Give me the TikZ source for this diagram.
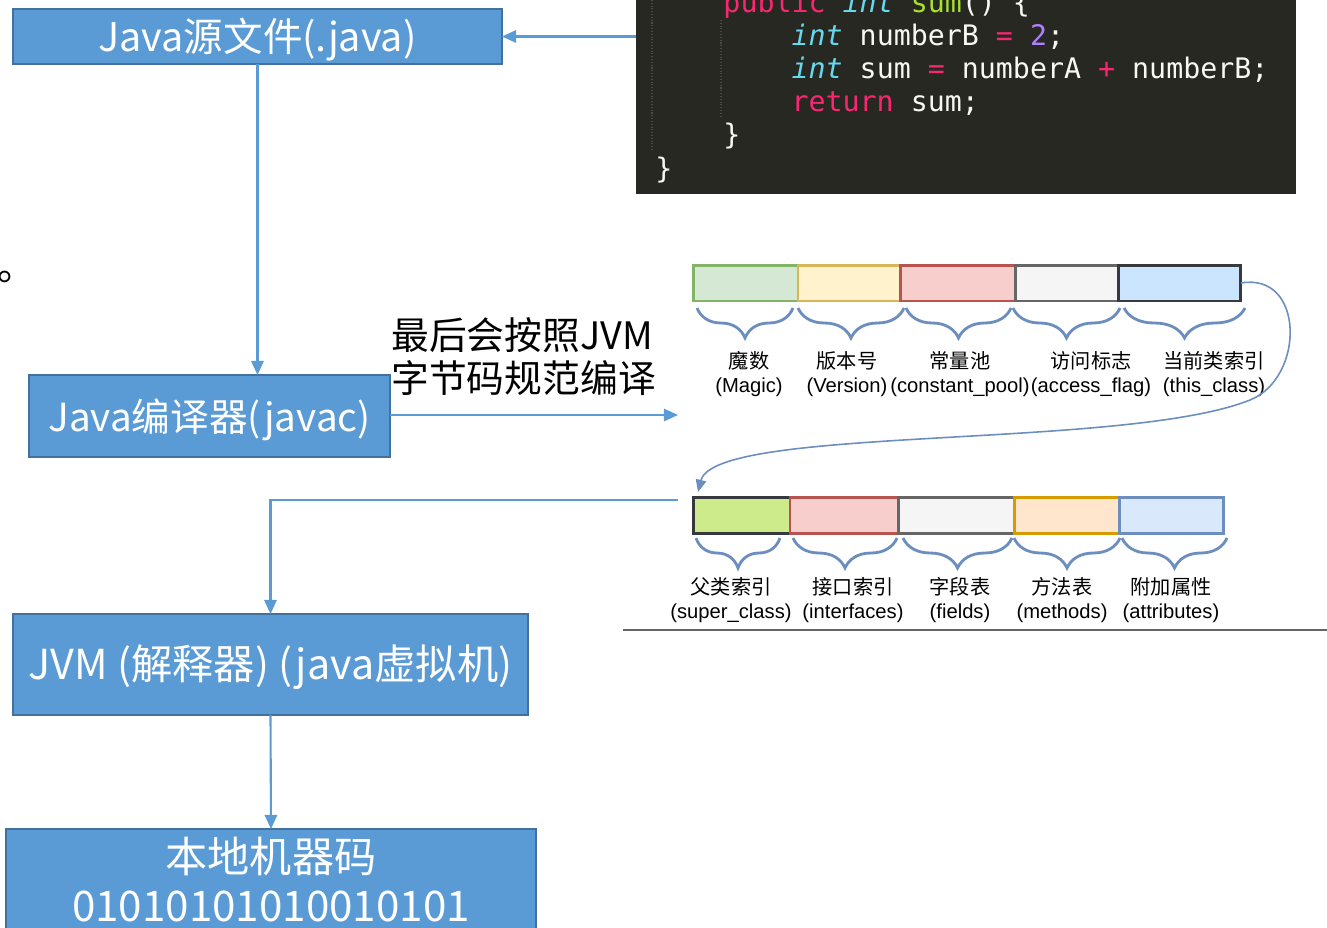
\documentclass[tikz,border=0pt]{standalone}
\usepackage{fontspec}
\setmainfont{Liberation Sans}
\newfontfamily\cjk{Noto Sans CJK SC}
\newfontfamily\codefont{DejaVu Sans Mono}
\usetikzlibrary{positioning, calc, arrows.meta, decorations.pathreplacing}
\definecolor{stageblue}{HTML}{5B9BD5}
\definecolor{stageedge}{HTML}{41719C}
\definecolor{codebg}{HTML}{272822}
\definecolor{codefg}{HTML}{F8F8F2}
\definecolor{codeguide}{HTML}{4A4B44}
\definecolor{kwpink}{HTML}{F92672}
\definecolor{kwcyan}{HTML}{66D9EF}
\definecolor{kwgreen}{HTML}{A6E22E}
\definecolor{kwpurple}{HTML}{AE81FF}
\definecolor{bracecol}{HTML}{6C8EBF}
\definecolor{magicfill}{HTML}{D5E8D4}
\definecolor{magicedge}{HTML}{82B366}
\definecolor{versfill}{HTML}{FFF2CC}
\definecolor{versedge}{HTML}{D6B656}
\definecolor{poolfill}{HTML}{F8CECC}
\definecolor{pooledge}{HTML}{B85450}
\definecolor{flagfill}{HTML}{F5F5F5}
\definecolor{flagedge}{HTML}{666666}
\definecolor{thisfill}{HTML}{CCE5FF}
\definecolor{darkedge}{HTML}{36393D}
\definecolor{superfill}{HTML}{CDEB8B}
\definecolor{methfill}{HTML}{FFE6CC}
\definecolor{methedge}{HTML}{D79B00}
\definecolor{attrfill}{HTML}{DAE8FC}
\newcommand{\kw}[1]{\textcolor{kwpink}{#1}}
\newcommand{\ty}[1]{\textcolor{kwcyan}{\itshape #1}}
\newcommand{\fn}[1]{\textcolor{kwgreen}{#1}}
\newcommand{\lit}[1]{\textcolor{kwpurple}{#1}}
\newcommand{\gap}{\phantom{0}}
\newcommand{\codetab}{\phantom{0000}}

\begin{document}
\begin{tikzpicture}[
  x=0.02cm, y=-0.02cm,
  stage/.style={draw=stageedge, fill=stageblue, line width=1.1pt, text=white,
    font=\cjk\fontsize{22.5}{28}\selectfont, inner sep=0, outer sep=0},
  oneline/.style={text height=21.6pt, text depth=4.5pt},
  flow/.style={draw=stageblue, line width=1.2pt, -{Triangle[length=8pt, width=7pt]}},
  codebox/.style={fill=codebg, text=codefg, font=\codefont\fontsize{16.1}{18.9}\selectfont,
    align=left, text width=12.44cm, inner xsep=0.38cm, inner ysep=0.22cm, anchor=south west},
  guide/.style={draw=codeguide, densely dotted, line width=0.6pt},
  bytebox/.style 2 args={draw=#1, fill=#2, line width=1.7pt, minimum height=0.72cm,
    inner sep=0, outer sep=0},
  bytebrace/.style={draw=bracecol, line width=1.6pt,
    decorate, decoration={brace, mirror, amplitude=0.6cm}},
  bytelabel/.style={align=center, inner sep=0, font=\fontsize{11.5}{13.7}\selectfont},
  linkcurve/.style={draw=bracecol, line width=0.9pt, -{Triangle[length=7pt, width=6pt]}},
]
\useasboundingbox (0,0) rectangle (1327,927);
\clip (0,0) rectangle (1327,927);

% compile stages
\node[stage, oneline, minimum width=9.78cm, minimum height=1.1cm] (src) at (257.5,36.5) {Java源文件(.java)};
\node[stage, oneline, minimum width=7.22cm, minimum height=1.64cm,
  font=\cjk\fontsize{22}{28}\selectfont] (javac) at (209.5,416) {Java编译器(javac)};
\node[stage, oneline, minimum width=10.3cm, minimum height=2.02cm,
  font=\cjk\fontsize{23.5}{28}\selectfont] (jvm) at (270.5,664.5) {JVM (解释器) (java虚拟机)};
\node[stage, minimum width=10.6cm, anchor=north, align=center, inner ysep=0.16cm,
  font=\cjk\fontsize{24}{28}\selectfont] (native) at (271,829) {本地机器码\\01010101010010101};

\node[inner sep=0, anchor=west, align=left, font=\cjk\fontsize{21.5}{24.5}\selectfont] (rule) at (391,357)
  {最后会按照JVM\\字节码规范编译};
\node[inner sep=0, anchor=base west, font=\cjk\fontsize{22}{26}\selectfont] (stop) at (-3,280) {。};

% source code
\node[codebox] (code) at (636,194) {%
\codetab\kw{public}\gap\ty{int}\gap\fn{sum}()\gap\{\\
\codetab\codetab\ty{int}\gap numberB\gap\kw{=}\gap\lit{2};\\
\codetab\codetab\ty{int}\gap sum\gap\kw{=}\gap numberA\gap\kw{+}\gap numberB;\\
\codetab\codetab\kw{return}\gap sum;\\
\codetab\}\\
\}};
\draw[guide] (652,0) -- (652,150);
\draw[guide] (721,20) -- (721,118);

% class file layout, first row
\node[bytebox={magicedge}{magicfill}, minimum width=2.1cm, anchor=west] (magic) at (693,283) {};
\node[bytebox={versedge}{versfill}, minimum width=2.06cm, right=0pt of magic] (version) {};
\node[bytebox={pooledge}{poolfill}, minimum width=2.3cm, right=0pt of version] (pool) {};
\node[bytebox={flagedge}{flagfill}, minimum width=2.06cm, right=0pt of pool] (flag) {};
\node[bytebox={darkedge}{thisfill}, minimum width=2.44cm, right=0pt of flag] (thisclass) {};

\draw[bytebrace] (697,308) -- (793,308);
\draw[bytebrace] (798,308) -- (904,308);
\draw[bytebrace] (906,308) -- (1011,308);
\draw[bytebrace] (1013,308) -- (1120,308);
\draw[bytebrace] (1124,308) -- (1245,308);

\node[bytelabel] (magiclbl) at (749,374) {{\cjk 魔数}\\(Magic)};
\node[bytelabel] (versionlbl) at (847,374) {{\cjk 版本号}\\(Version)};
\node[bytelabel] (poollbl) at (960,374) {{\cjk 常量池}\\(constant\_pool)};
\node[bytelabel] (flaglbl) at (1091,374) {{\cjk 访问标志}\\(access\_flag)};
\node[bytelabel] (thislbl) at (1214,374) {{\cjk 当前类索引}\\(this\_class)};

% class file layout, second row
\node[bytebox={darkedge}{superfill}, minimum width=1.94cm, anchor=west] (superclass) at (693,515) {};
\node[bytebox={pooledge}{poolfill}, minimum width=2.18cm, right=0pt of superclass] (interfaces) {};
\node[bytebox={flagedge}{flagfill}, minimum width=2.32cm, right=0pt of interfaces] (fields) {};
\node[bytebox={methedge}{methfill}, minimum width=2.1cm, right=0pt of fields] (methods) {};
\node[bytebox={bracecol}{attrfill}, minimum width=2.08cm, right=0pt of methods] (attributes) {};

\draw[bytebrace] (696,538) -- (780,538);
\draw[bytebrace] (793,538) -- (897,538);
\draw[bytebrace] (903,538) -- (1012,538);
\draw[bytebrace] (1014,538) -- (1120,538);
\draw[bytebrace] (1122,538) -- (1227,538);

\node[bytelabel] (superlbl) at (731,600) {{\cjk 父类索引}\\(super\_class)};
\node[bytelabel] (interlbl) at (853,600) {{\cjk 接口索引}\\(interfaces)};
\node[bytelabel] (fieldslbl) at (960,600) {{\cjk 字段表}\\(fields)};
\node[bytelabel] (methodslbl) at (1062,600) {{\cjk 方法表}\\(methods)};
\node[bytelabel] (attrlbl) at (1171,600) {{\cjk 附加属性}\\(attributes)};

\draw[draw=flagedge, line width=1.2pt] (623,630) -- (1327,630);

% connectors
\coordinate (rowone) at (678,415);
\coordinate (rowtwo) at (678,500);
\coordinate (rowtwotop) at ($(superclass.north west)+(5,-5)$);
\draw[flow] (code.west |- src.east) -- (src.east);
\draw[flow] (src.south) -- (src.south |- javac.north);
\draw[flow] (javac.east |- rowone) -- (rowone);
\draw[flow] (rowtwo) -| (jvm.north);
\draw[flow] (jvm.south) -- (native.north);
\draw[linkcurve] (thisclass.east) .. controls (1305,272) and (1305,378) .. (1250,400)
  .. controls (1125,450) and (715,425) .. (rowtwotop);

\end{tikzpicture}
\end{document}
